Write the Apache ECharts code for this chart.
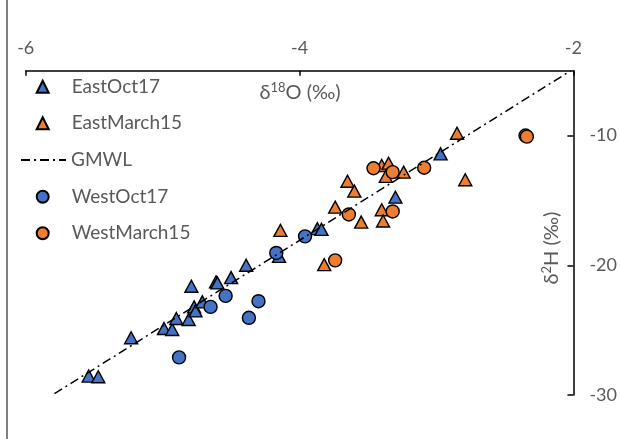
<!DOCTYPE html>
<html><head><meta charset="utf-8">
<script src="https://cdn.jsdelivr.net/npm/echarts@6/dist/echarts.min.js"></script>
<style>html,body{margin:0;padding:0;background:#fff}#c{width:620px;height:439px}</style>
</head><body><div id="c"></div>
<script>
// ---- data (δ18O, δ2H) ----
const eastOct17 = [[-5.54,-28.54],[-5.47,-28.59],[-5.23,-25.59],[-4.99,-24.87],[-4.93,-24.95],[-4.90,-24.10],[-4.81,-24.18],[-4.79,-21.62],[-4.77,-23.21],[-4.76,-23.52],[-4.71,-22.82],[-4.61,-21.28],[-4.60,-21.36],[-4.50,-20.95],[-4.39,-20.00],[-4.15,-19.31],[-3.87,-17.18],[-3.84,-17.23],[-3.30,-14.75],[-2.97,-11.41]];
const eastMarch15 = [[-4.14,-17.31],[-3.82,-19.95],[-3.74,-15.52],[-3.65,-13.52],[-3.60,-14.28],[-3.55,-16.67],[-3.40,-15.72],[-3.39,-16.59],[-3.40,-12.31],[-3.35,-12.13],[-3.37,-13.15],[-3.24,-12.82],[-2.85,-9.82],[-2.79,-13.41]];
const gmwl = [[-5.79,-29.9],[-2.02,-5.0]];
const westOct17 = [[-4.88,-27.10],[-4.65,-23.21],[-4.54,-22.36],[-4.37,-24.05],[-4.30,-22.77],[-4.17,-19.05],[-3.96,-17.77]];
const westMarch15 = [[-3.46,-12.52],[-3.32,-12.82],[-3.64,-16.08],[-3.32,-15.85],[-3.74,-19.62],[-3.09,-12.48],[-2.35,-10.00],[-2.34,-10.08]];
const seriesNames = ['EastOct17','EastMarch15','GMWL','WestOct17','WestMarch15'];
const xTickLabels = ['-6','-4','-2'];
const yTickLabels = ['-30','-20','-10'];
const xAxisTitle = {pre:'δ', sup:'18', post:'O (‰)'};
const yAxisTitle = {pre:'δ', sup:'2', post:'H (‰)'};

const BLUE = '#4472C4', ORANGE = '#ED7D31', GRAY = '#595959';
const FONT = 'Lato';
const chart = echarts.init(document.getElementById('c'), null, {renderer:'canvas'});

function legendFor(name, i, isLine) {
  const yc = [86.7,123.3,160,196.7,233.3][i];
  return {
    data: isLine ? [{name, itemStyle:{opacity:0}}] : [name],
    orient:'vertical', padding:0,
    left: isLine ? 20 : 35.7, top: yc - 10,
    itemWidth: isLine ? 45 : 12, itemHeight: 12,
    selectedMode:false,
    textStyle:{color:GRAY, fontFamily:FONT, fontSize:19, lineHeight:20, padding:[0,0,0,isLine?0:18]}
  };
}

const scatterBase = (name, data, sym, color, size) => ({
  name, type:'scatter', data, symbol:sym, symbolSize:size,
  itemStyle:{color, borderColor:'#000', borderWidth:1.4, opacity:1},
  emphasis:{disabled:true}
});

const richTitle = t => '{a|' + t.pre + '}{s|' + t.sup + '}{a|' + t.post + '}';
const richStyles = {a:{fill:GRAY, fontFamily:FONT, fontSize:20, lineHeight:24},
                    s:{fill:GRAY, fontFamily:FONT, fontSize:13, lineHeight:24, padding:[0,0,10,0]}};

chart.setOption({
  animation:false,
  grid:{left:25.7, right:620-577.7, top:70.7, bottom:439-395, containLabel:false},
  xAxis:{
    type:'value', position:'top', min:-6, max:-2, interval:2,
    axisLine:{onZero:false, lineStyle:{color:'#000', width:1.5}},
    axisTick:{show:true, inside:true, length:5, lineStyle:{color:'#000', width:1.5}},
    splitLine:{show:false},
    axisLabel:{color:GRAY, fontFamily:FONT, fontSize:18, margin:14,
      formatter:v => xTickLabels[[-6,-4,-2].indexOf(v)] ?? ''}
  },
  yAxis:{
    type:'value', position:'right', min:-30, max:-5, interval:10,
    axisLine:{onZero:false, lineStyle:{color:'#000', width:1.5}},
    axisTick:{show:true, inside:true, length:6, lineStyle:{color:'#000', width:1.5}},
    splitLine:{show:false},
    axisLabel:{color:GRAY, fontFamily:FONT, fontSize:18, margin:16, showMaxLabel:false,
      formatter:v => yTickLabels[[-30,-20,-10].indexOf(v)] ?? ''}
  },
  legend: seriesNames.map((n,i)=>legendFor(n,i,n==='GMWL')),
  series:[
    scatterBase(seriesNames[0], eastOct17, 'triangle', BLUE, [13,12]),
    scatterBase(seriesNames[1], eastMarch15, 'triangle', ORANGE, [13,12]),
    {name:seriesNames[2], type:'line', data:gmwl, symbol:'none', showSymbol:false, silent:true,
     lineStyle:{color:'#000', width:1.5, type:[9,4,2,4]}, itemStyle:{color:'#000'}},
    scatterBase(seriesNames[3], westOct17, 'circle', BLUE, 13),
    scatterBase(seriesNames[4], westMarch15, 'circle', ORANGE, 13)
  ],
  graphic:[
    {type:'line', shape:{x1:7,y1:0,x2:7,y2:439}, style:{stroke:'#000', lineWidth:1}},
    {type:'text', x:300, y:93,
     style:{text:richTitle(xAxisTitle), align:'center', verticalAlign:'middle', rich:richStyles}},
    {type:'text', x:552, y:248, rotation:Math.PI/2,
     style:{text:richTitle(yAxisTitle), align:'center', verticalAlign:'middle', rich:richStyles}}
  ]
});
</script></body></html>
